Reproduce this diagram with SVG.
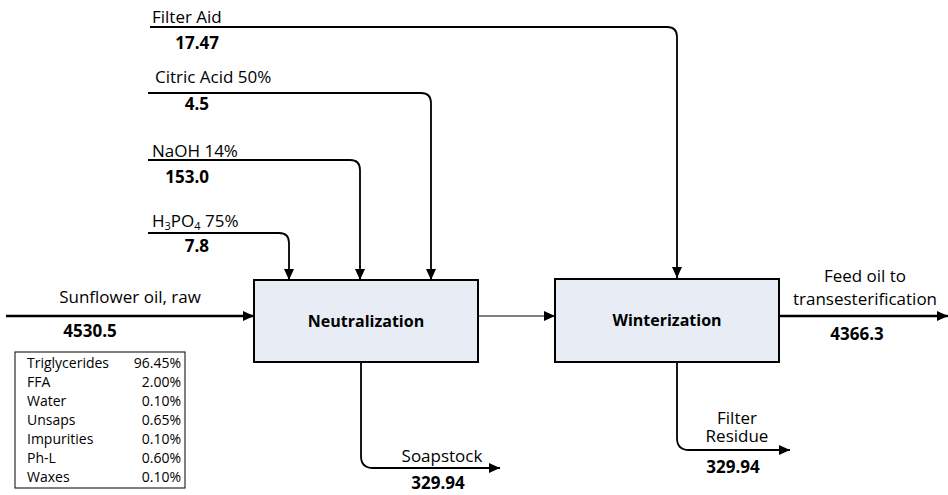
<svg xmlns="http://www.w3.org/2000/svg" width="948" height="495" viewBox="0 0 948 495">
  <style>
    text { font-family: "Open Sans", "Noto Sans", sans-serif; fill: #000; }
    .lbl { font-size: 17px; }
    .num { font-size: 17px; font-weight: bold; }
    .unit { font-size: 16px; font-weight: bold; }
    .tbl { font-size: 14px; }
    .box { fill: #e8edf5; stroke: #000; stroke-width: 2; }
    .feed { fill: none; stroke: #000; stroke-width: 1.8; }
    .main { fill: none; stroke: #000; stroke-width: 2.5; }
    .thin { fill: none; stroke: #000; stroke-width: 1.2; }
  </style>
  <defs>
    <marker id="arrow" markerUnits="userSpaceOnUse" markerWidth="12" markerHeight="12" viewBox="0 0 12 12" refX="11" refY="6" orient="auto">
      <path d="M0,1 L11,6 L0,11 Z" fill="#000"/>
    </marker>
  </defs>

  <!-- connectors -->
  <g id="connectors">
    <!-- reagent feeds -->
    <path class="feed" d="M150,27 H667 Q677,27 677,37 V278" marker-end="url(#arrow)"/>
    <path class="feed" d="M148,93 H421 Q431,93 431,103 V280" marker-end="url(#arrow)"/>
    <path class="feed" d="M148,160 H350 Q360,160 360,170 V280" marker-end="url(#arrow)"/>
    <path class="feed" d="M148,233 H279 Q289,233 289,243 V280" marker-end="url(#arrow)"/>
    <!-- main oil line -->
    <path class="main" d="M6,316 H254" marker-end="url(#arrow)"/>
    <path class="thin" d="M478,316 H555" marker-end="url(#arrow)"/>
    <path class="main" d="M779,316 H948" marker-end="url(#arrow)"/>
    <!-- by-products -->
    <path class="feed" d="M361,362 V456 Q361,468 373,468 H500" marker-end="url(#arrow)"/>
    <path class="feed" d="M677,362 V438 Q677,450 689,450 H790" marker-end="url(#arrow)"/>
  </g>

  <!-- stream labels -->
  <g id="labels">
    <text class="lbl" x="152" y="23">Filter Aid</text>
    <text class="num" x="219" y="49" text-anchor="end">17.47</text>
    <text class="lbl" x="155" y="83">Citric Acid 50%</text>
    <text class="num" x="209" y="110" text-anchor="end">4.5</text>
    <text class="lbl" x="152" y="157">NaOH 14%</text>
    <text class="num" x="209" y="183" text-anchor="end">153.0</text>
    <text class="lbl" x="152" y="227">H<tspan font-size="11" dy="3">3</tspan><tspan dy="-3">PO</tspan><tspan font-size="11" dy="3">4</tspan><tspan dy="-3"> 75%</tspan></text>
    <text class="num" x="209" y="252" text-anchor="end">7.8</text>
    <text class="lbl" x="130" y="303" text-anchor="middle">Sunflower oil, raw</text>
    <text class="num" x="90" y="337" text-anchor="middle">4530.5</text>
    <text class="lbl" x="865" y="282" text-anchor="middle">Feed oil to</text>
    <text class="lbl" x="865" y="305" text-anchor="middle">transesterification</text>
    <text class="num" x="857" y="340" text-anchor="middle">4366.3</text>
    <text class="lbl" x="442" y="462" text-anchor="middle">Soapstock</text>
    <text class="num" x="438" y="489" text-anchor="middle">329.94</text>
    <text class="lbl" x="737" y="424" text-anchor="middle" font-size="16">Filter</text>
    <text class="lbl" x="737" y="442" text-anchor="middle" font-size="16">Residue</text>
    <text class="num" x="733" y="473" text-anchor="middle">329.94</text>
  </g>

  <!-- process units -->
  <g id="neutralization">
    <rect class="box" x="254" y="280" width="224" height="82"/>
    <text class="unit" x="366" y="327" text-anchor="middle">Neutralization</text>
  </g>
  <g id="winterization">
    <rect class="box" x="555" y="279" width="224" height="83"/>
    <text class="unit" x="667" y="326" text-anchor="middle">Winterization</text>
  </g>

  <!-- raw oil composition -->
  <g id="composition">
    <rect x="15" y="352" width="170" height="136" fill="#fff" stroke="#000" stroke-width="1"/>
    <g class="tbl">
      <text class="tbl" x="27" y="368">Triglycerides</text><text class="tbl" x="181" y="368" text-anchor="end">96.45%</text>
      <text class="tbl" x="27" y="387">FFA</text><text class="tbl" x="181" y="387" text-anchor="end">2.00%</text>
      <text class="tbl" x="27" y="406">Water</text><text class="tbl" x="181" y="406" text-anchor="end">0.10%</text>
      <text class="tbl" x="27" y="425">Unsaps</text><text class="tbl" x="181" y="425" text-anchor="end">0.65%</text>
      <text class="tbl" x="27" y="444">Impurities</text><text class="tbl" x="181" y="444" text-anchor="end">0.10%</text>
      <text class="tbl" x="27" y="463">Ph-L</text><text class="tbl" x="181" y="463" text-anchor="end">0.60%</text>
      <text class="tbl" x="27" y="482">Waxes</text><text class="tbl" x="181" y="482" text-anchor="end">0.10%</text>
    </g>
  </g>
</svg>
